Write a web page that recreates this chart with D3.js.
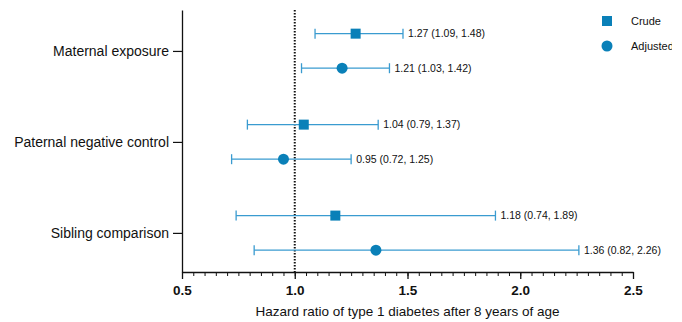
<!DOCTYPE html>
<html>
<head>
<meta charset="utf-8">
<script src="https://cdn.jsdelivr.net/npm/d3@7"></script>
<style>
  body { margin: 0; background: #fff; }
  text { font-family: Arial, "Liberation Sans", sans-serif; fill: #111; }
</style>
</head>
<body>
<div id="wrapper"></div>
<script>
// categories and the two estimates per category
const categories = ["Maternal exposure", "Paternal negative control", "Sibling comparison"];
const series = ["Crude", "Adjusted"];
const crudeHR = [1.27, 1.04, 1.18];
const crudeLow = [1.09, 0.79, 0.74];
const crudeHigh = [1.48, 1.37, 1.89];
const adjHR = [1.21, 0.95, 1.36];
const adjLow = [1.03, 0.72, 0.82];
const adjHigh = [1.42, 1.25, 2.26];
const xTicks = [0.5, 1.0, 1.5, 2.0, 2.5];

const rows = [];
categories.forEach((c, i) => {
    rows.push({cat: i, s: 0, hr: crudeHR[i], lo: crudeLow[i], hi: crudeHigh[i]});
    rows.push({cat: i, s: 1, hr: adjHR[i], lo: adjLow[i], hi: adjHigh[i]});
});

const dimension = {
    width: 682,
    height: 322,
    margin: {top: 10, left: 182, bottom: 50, right: 49}
};
dimension.boundedWidth = dimension.width - dimension.margin.left - dimension.margin.right;
dimension.boundedHeight = dimension.height - dimension.margin.top - dimension.margin.bottom;

const svg = d3.select("#wrapper").append("svg")
    .attr("width", dimension.width)
    .attr("height", dimension.height);

svg.append("clipPath").attr("id", "legclip")
    .append("rect").attr("x", 0).attr("y", 0).attr("width", 672).attr("height", dimension.height);

const bounded = svg.append("g")
    .attr("transform", `translate(${dimension.margin.left},${dimension.margin.top})`);

const xScaler = d3.scaleLinear().domain([0.5, 2.5]).range([0, dimension.boundedWidth]);
const yScaler = d3.scaleLinear().domain([-0.45, 2.43]).range([0, dimension.boundedHeight]);
const offset = 0.19;
const yPos = d => yScaler(d.cat + (d.s === 0 ? -offset : offset));

const blueLine = "#3a9bd0";
const blueMark = "#0a80b8";

// reference line at 1
bounded.append("line")
    .attr("x1", xScaler(1)).attr("x2", xScaler(1))
    .attr("y1", 0).attr("y2", dimension.boundedHeight)
    .attr("stroke", "#111").attr("stroke-width", 2)
    .attr("stroke-dasharray", "1.5,1.5");

// error bars
const g = bounded.selectAll(".est").data(rows).join("g").attr("class", "est");
g.append("line")
    .attr("x1", d => xScaler(d.lo)).attr("x2", d => xScaler(d.hi))
    .attr("y1", yPos).attr("y2", yPos)
    .attr("stroke", blueLine).attr("stroke-width", 1.3);
g.append("line")
    .attr("x1", d => xScaler(d.lo)).attr("x2", d => xScaler(d.lo))
    .attr("y1", d => yPos(d) - 5).attr("y2", d => yPos(d) + 5)
    .attr("stroke", blueLine).attr("stroke-width", 1.3);
g.append("line")
    .attr("x1", d => xScaler(d.hi)).attr("x2", d => xScaler(d.hi))
    .attr("y1", d => yPos(d) - 5).attr("y2", d => yPos(d) + 5)
    .attr("stroke", blueLine).attr("stroke-width", 1.3);

// markers
g.filter(d => d.s === 0).append("rect")
    .attr("x", d => xScaler(d.hr) - 5).attr("y", d => yPos(d) - 5)
    .attr("width", 10).attr("height", 10)
    .attr("fill", blueMark);
g.filter(d => d.s === 1).append("circle")
    .attr("cx", d => xScaler(d.hr)).attr("cy", yPos)
    .attr("r", 5.5)
    .attr("fill", blueMark);

// value labels
g.append("text")
    .attr("x", d => xScaler(d.hi) + 5).attr("y", yPos)
    .attr("dy", "0.35em")
    .style("font-size", "10.5px")
    .text(d => `${d.hr.toFixed(2)} (${d.lo.toFixed(2)}, ${d.hi.toFixed(2)})`);

// y axis
const yAxis = bounded.append("g")
    .call(d3.axisLeft(yScaler).tickValues([0, 1, 2]).tickFormat(i => categories[i]).tickSize(9).tickSizeOuter(0).tickPadding(4));
yAxis.select(".domain").attr("stroke", "#111").attr("stroke-width", 1.3);
yAxis.selectAll(".tick line").attr("stroke", "#111").attr("stroke-width", 1.2);
yAxis.selectAll("text").style("font-size", "14px").attr("fill", "#111");

// x axis with minor ticks
const xAxisG = bounded.append("g").attr("transform", `translate(0,${dimension.boundedHeight})`);
xAxisG.append("g")
    .call(d3.axisBottom(xScaler).tickValues(d3.range(0.5, 2.5001, 0.05)).tickSize(4).tickFormat("").tickSizeOuter(0))
    .call(a => a.select(".domain").remove())
    .selectAll("line").attr("stroke", "#111").attr("stroke-width", 1);
const xMajor = xAxisG.append("g")
    .call(d3.axisBottom(xScaler).tickValues(xTicks).tickSize(7).tickSizeOuter(0).tickPadding(6).tickFormat(d3.format(".1f")));
xMajor.select(".domain").attr("stroke", "#111").attr("stroke-width", 1.3);
xMajor.selectAll(".tick line").attr("stroke", "#111").attr("stroke-width", 1.3);
xMajor.selectAll("text").style("font-size", "13.5px").style("font-weight", "bold").attr("fill", "#111");

svg.append("text")
    .attr("x", dimension.margin.left + xScaler(1.5))
    .attr("y", 316)
    .attr("text-anchor", "middle")
    .style("font-size", "13.5px")
    .text("Hazard ratio of type 1 diabetes after 8 years of age");

// legend
const legend = svg.append("g").attr("clip-path", "url(#legclip)");
const legY = [21, 46];
legend.append("rect").attr("x", 602).attr("y", legY[0] - 5).attr("width", 10).attr("height", 10).attr("fill", blueMark);
legend.append("circle").attr("cx", 607).attr("cy", legY[1]).attr("r", 5.5).attr("fill", blueMark);
legend.selectAll(".leg").data(series).join("text")
    .attr("x", 631).attr("y", (d, i) => legY[i]).attr("dy", "0.35em")
    .style("font-size", "11px")
    .text(d => d);
</script>
</body>
</html>
